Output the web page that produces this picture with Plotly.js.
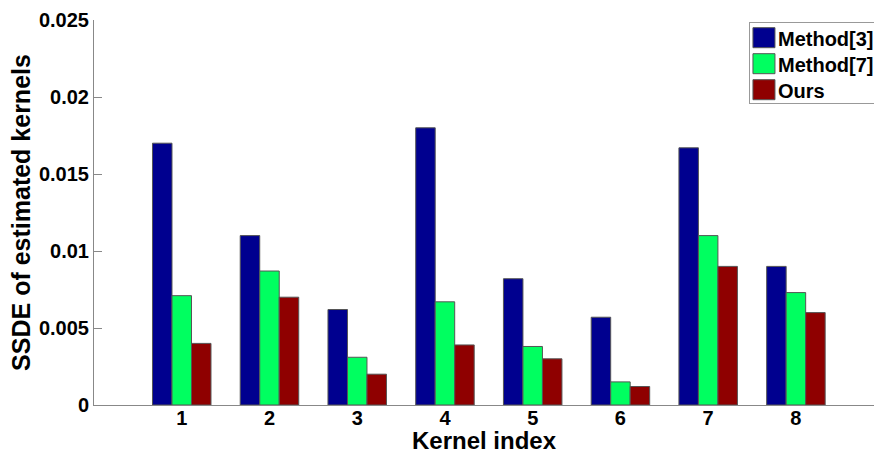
<!DOCTYPE html>
<html>
<head>
<meta charset="utf-8">
<script src="https://cdn.plot.ly/plotly-3.0.1.min.js"></script>
<style>
  html, body { margin: 0; padding: 0; background: #fff; }
  #chart { width: 874px; height: 452px; }
</style>
</head>
<body>
<div id="chart"></div>
<script>
// ---- data ----
const kernels = ['1', '2', '3', '4', '5', '6', '7', '8'];
const seriesNames = ['Method[3]', 'Method[7]', 'Ours'];
const method3 = [0.0170, 0.0110, 0.0062, 0.0180, 0.0082, 0.0057, 0.0167, 0.0090];
const method7 = [0.0071, 0.0087, 0.0031, 0.0067, 0.0038, 0.0015, 0.0110, 0.0073];
const ours    = [0.0040, 0.0070, 0.0020, 0.0039, 0.0030, 0.0012, 0.0090, 0.0060];
const yTicks = [0, 0.005, 0.01, 0.015, 0.02, 0.025];

// ---- style ----
const colors = ['#00008F', '#00FF60', '#8F0000'];
const FONT = 'Liberation Sans, Arial, Helvetica, sans-serif';
const xPos = kernels.map(k => Number(k));
const allSeries = [method3, method7, ours];

const traces = allSeries.map((vals, i) => ({
  type: 'bar',
  name: seriesNames[i],
  x: xPos,
  y: vals,
  marker: { color: colors[i], line: { color: '#555', width: 1 } },
  hoverinfo: 'x+y+name'
}));

const layout = {
  width: 874,
  height: 452,
  margin: { l: 94, r: 0, t: 20, b: 47, autoexpand: false },
  paper_bgcolor: '#fff',
  plot_bgcolor: '#fff',
  barmode: 'group',
  bargap: 1 / 3,
  bargroupgap: 0,
  showlegend: true,
  legend: {
    x: 0.8397, xanchor: 'left',
    y: 0.9956, yanchor: 'top',
    bgcolor: '#fff',
    bordercolor: '#999',
    borderwidth: 1,
    font: { family: FONT, size: 20, weight: 'bold', color: '#000' },
    tracegroupgap: 0
  },
  xaxis: {
    range: [0, 8.89],
    tickvals: xPos,
    ticktext: kernels,
    ticks: '',
    showline: true,
    linecolor: '#888',
    linewidth: 1,
    mirror: false,
    showgrid: false,
    zeroline: false,
    ticklabelstandoff: -5,
    tickfont: { family: FONT, size: 20, weight: 'bold', color: '#000' },
    title: { text: 'Kernel index', font: { family: FONT, size: 24, weight: 'bold', color: '#000' }, standoff: 8 },
    automargin: false,
    fixedrange: true
  },
  yaxis: {
    range: [0, 0.025],
    tickvals: yTicks,
    ticktext: yTicks.map(v => String(v)),
    ticks: 'inside',
    ticklen: 8,
    tickcolor: '#888',
    tickwidth: 1,
    showline: true,
    linecolor: '#888',
    linewidth: 1,
    mirror: false,
    showgrid: false,
    zeroline: false,
    tickfont: { family: FONT, size: 20, weight: 'bold', color: '#000' },
    title: { text: 'SSDE of estimated kernels', font: { family: FONT, size: 25, weight: 'bold', color: '#000' }, standoff: 1 },
    automargin: false,
    fixedrange: true
  }
};

Plotly.newPlot('chart', traces, layout, { displayModeBar: false, staticPlot: true }).then(gd => {
  // MATLAB-like legend: larger rectangular swatches, tighter rows, text close to swatch
  const items = gd.querySelectorAll('.legend .traces');
  items.forEach((it, i) => {
    it.setAttribute('transform', 'translate(1,' + (16 + 26 * i) + ')');
    it.querySelectorAll('.legendpoints path').forEach(p => {
      p.setAttribute('d', 'M11,10H-11V-10H11Z');
      p.setAttribute('transform', 'translate(14,0)');
    });
    const t = it.querySelector('.legendtext');
    if (t) t.setAttribute('x', '28');
  });
  const bg = gd.querySelector('.legend .bg');
  if (bg) bg.setAttribute('height', '81');
  const scroll = gd.querySelector('.legend .scrollbox');
  if (scroll) scroll.removeAttribute('clip-path');
  // nudge the x title slightly lower, keeping Plotly's own transform
  const xtText = gd.querySelector('.g-xtitle text');
  if (xtText) {
    const prev = xtText.getAttribute('transform') || '';
    xtText.setAttribute('transform', (prev + ' translate(0,2)').trim());
  }
});
</script>
</body>
</html>
